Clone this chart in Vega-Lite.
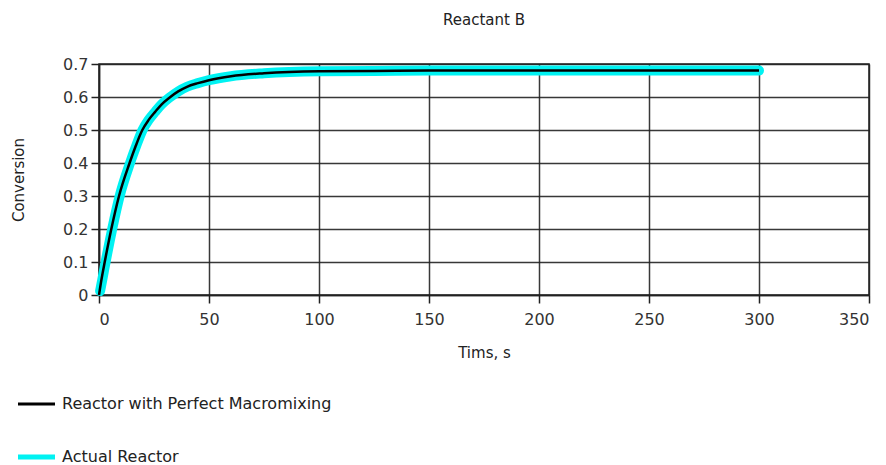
{
  "$schema": "https://vega.github.io/schema/vega-lite/v6.json",
  "autosize": "none",
  "width": 770,
  "height": 231,
  "padding": {"left": 99, "top": 64, "right": 17, "bottom": 170},
  "background": "white",
  "title": {"text": "Reactant B", "fontSize": 15, "font": "DejaVu Sans", "fontWeight": "normal", "color": "#222222", "offset": 28, "anchor": "middle"},
  "config": {
    "font": "DejaVu Sans",
    "view": {"stroke": "#222222", "strokeWidth": 1.5}
  },
  "datasets": {
    "perfect": [
      {"t": 0, "x": 0, "series": "Reactor with Perfect Macromixing"},
      {"t": 1.2, "x": 0.05, "series": "Reactor with Perfect Macromixing"},
      {"t": 2.6, "x": 0.1, "series": "Reactor with Perfect Macromixing"},
      {"t": 5.6, "x": 0.2, "series": "Reactor with Perfect Macromixing"},
      {"t": 9.1, "x": 0.3, "series": "Reactor with Perfect Macromixing"},
      {"t": 13.9, "x": 0.4, "series": "Reactor with Perfect Macromixing"},
      {"t": 16.6, "x": 0.45, "series": "Reactor with Perfect Macromixing"},
      {"t": 19.7, "x": 0.5, "series": "Reactor with Perfect Macromixing"},
      {"t": 22.5, "x": 0.53, "series": "Reactor with Perfect Macromixing"},
      {"t": 25.5, "x": 0.555, "series": "Reactor with Perfect Macromixing"},
      {"t": 28.5, "x": 0.578, "series": "Reactor with Perfect Macromixing"},
      {"t": 32, "x": 0.598, "series": "Reactor with Perfect Macromixing"},
      {"t": 36, "x": 0.617, "series": "Reactor with Perfect Macromixing"},
      {"t": 40, "x": 0.631, "series": "Reactor with Perfect Macromixing"},
      {"t": 45, "x": 0.642, "series": "Reactor with Perfect Macromixing"},
      {"t": 50, "x": 0.651, "series": "Reactor with Perfect Macromixing"},
      {"t": 60, "x": 0.663, "series": "Reactor with Perfect Macromixing"},
      {"t": 75, "x": 0.672, "series": "Reactor with Perfect Macromixing"},
      {"t": 100, "x": 0.678, "series": "Reactor with Perfect Macromixing"},
      {"t": 125, "x": 0.679, "series": "Reactor with Perfect Macromixing"},
      {"t": 150, "x": 0.68, "series": "Reactor with Perfect Macromixing"},
      {"t": 200, "x": 0.68, "series": "Reactor with Perfect Macromixing"},
      {"t": 250, "x": 0.68, "series": "Reactor with Perfect Macromixing"},
      {"t": 300, "x": 0.68, "series": "Reactor with Perfect Macromixing"}
    ],
    "actual": [
      {"t": 0.5, "x": 0.012, "series": "Actual Reactor"},
      {"t": 1.6, "x": 0.05, "series": "Actual Reactor"},
      {"t": 3, "x": 0.1, "series": "Actual Reactor"},
      {"t": 6, "x": 0.2, "series": "Actual Reactor"},
      {"t": 9.4, "x": 0.3, "series": "Actual Reactor"},
      {"t": 14.1, "x": 0.4, "series": "Actual Reactor"},
      {"t": 16.8, "x": 0.45, "series": "Actual Reactor"},
      {"t": 19.8, "x": 0.5, "series": "Actual Reactor"},
      {"t": 22.5, "x": 0.53, "series": "Actual Reactor"},
      {"t": 25.5, "x": 0.555, "series": "Actual Reactor"},
      {"t": 28.5, "x": 0.578, "series": "Actual Reactor"},
      {"t": 32, "x": 0.598, "series": "Actual Reactor"},
      {"t": 36, "x": 0.617, "series": "Actual Reactor"},
      {"t": 40, "x": 0.631, "series": "Actual Reactor"},
      {"t": 45, "x": 0.642, "series": "Actual Reactor"},
      {"t": 50, "x": 0.651, "series": "Actual Reactor"},
      {"t": 60, "x": 0.663, "series": "Actual Reactor"},
      {"t": 75, "x": 0.672, "series": "Actual Reactor"},
      {"t": 100, "x": 0.678, "series": "Actual Reactor"},
      {"t": 125, "x": 0.679, "series": "Actual Reactor"},
      {"t": 150, "x": 0.68, "series": "Actual Reactor"},
      {"t": 200, "x": 0.68, "series": "Actual Reactor"},
      {"t": 250, "x": 0.68, "series": "Actual Reactor"},
      {"t": 300, "x": 0.68, "series": "Actual Reactor"}
    ]
  },
  "encoding": {
    "x": {
      "field": "t", "type": "quantitative",
      "scale": {"domain": [0, 350], "nice": false, "zero": false},
      "axis": {
        "values": [0, 50, 100, 150, 200, 250, 300, 350],
        "title": "Tims, s", "titleFontSize": 15, "titleFontWeight": "normal", "titleColor": "#222222", "titlePadding": 18,
        "labelFontSize": 16, "labelColor": "#333333", "labelPadding": 8,
        "domainColor": "#222222", "domainWidth": 1.5,
        "tickColor": "#222222", "tickSize": 8, "tickWidth": 1.5,
        "grid": true, "gridColor": "#222222", "gridWidth": 1.5, "gridOpacity": 0.9
      }
    },
    "y": {
      "field": "x", "type": "quantitative",
      "scale": {"domain": [0, 0.7], "nice": false},
      "axis": {
        "values": [0, 0.1, 0.2, 0.3, 0.4, 0.5, 0.6, 0.7],
        "format": ".1~f",
        "title": "Conversion", "titleFontSize": 15, "titleFontWeight": "normal", "titleColor": "#222222", "titlePadding": 36,
        "labelFontSize": 16, "labelColor": "#333333", "labelPadding": 3,
        "domainColor": "#222222", "domainWidth": 1.5,
        "tickColor": "#222222", "tickSize": 8, "tickWidth": 1.5,
        "grid": true, "gridColor": "#222222", "gridWidth": 1.5, "gridOpacity": 0.9
      }
    },
    "color": {
      "field": "series", "type": "nominal",
      "scale": {"domain": ["Reactor with Perfect Macromixing", "Actual Reactor"], "range": ["#000000", "#00f2f2"]},
      "legend": {
        "title": null, "orient": "none", "legendX": -70.5, "legendY": 332,
        "direction": "vertical",
        "symbolType": "stroke", "symbolSize": 1369, "symbolStrokeWidth": 3,
        "labelFontSize": 16, "labelColor": "#222222", "labelOffset": 17.5, "labelLimit": 500,
        "rowPadding": 35,
        "encode": {"symbols": {"update": {"strokeWidth": {"signal": "datum.value === 'Actual Reactor' ? 5 : 3"}}}}
      }
    }
  },
  "layer": [
    {"data": {"name": "actual"}, "mark": {"type": "line", "strokeWidth": 10, "strokeCap": "round", "strokeJoin": "round", "interpolate": "monotone"}},
    {"data": {"name": "perfect"}, "mark": {"type": "line", "strokeWidth": 2.5, "strokeCap": "butt", "interpolate": "monotone"}}
  ]
}
